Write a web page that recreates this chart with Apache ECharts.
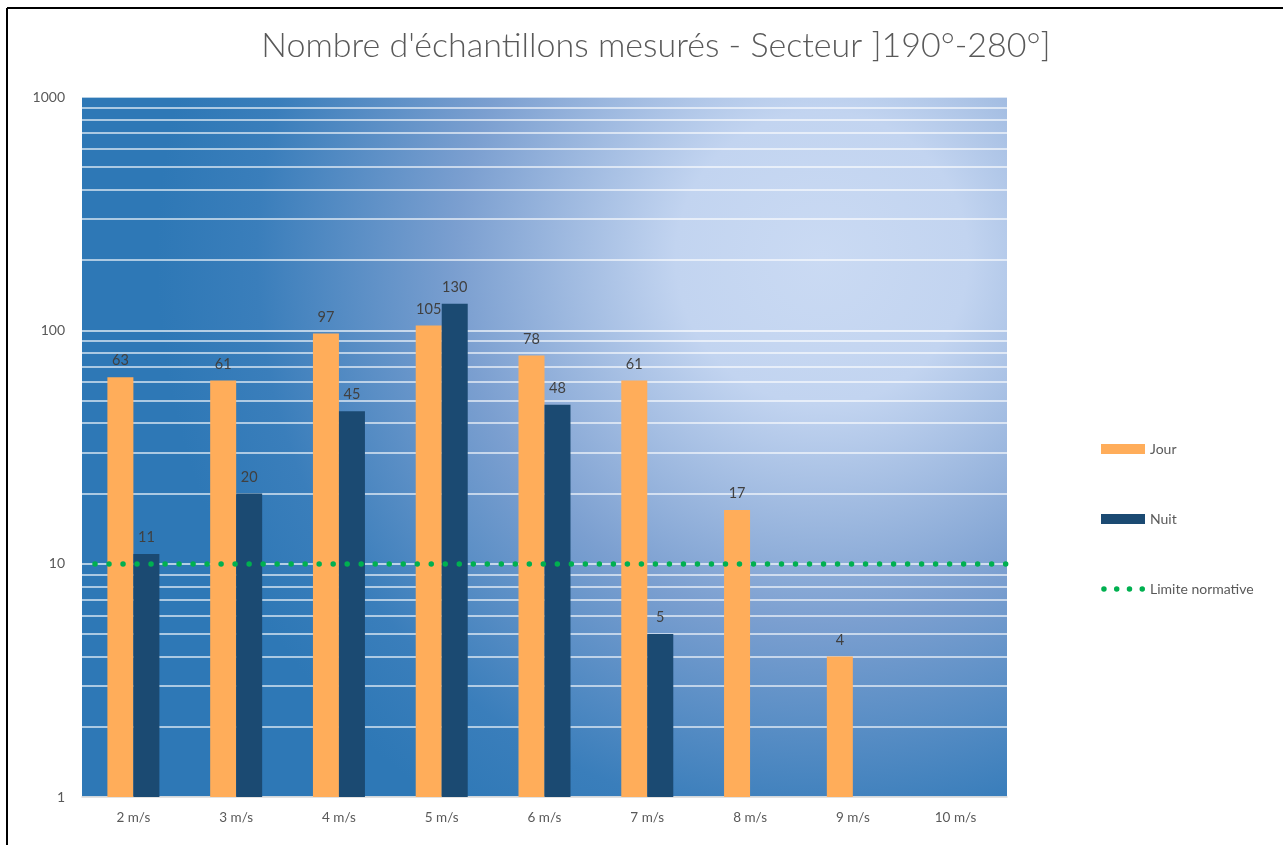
<!DOCTYPE html>
<html>
<head>
<meta charset="utf-8">
<script src="https://cdn.jsdelivr.net/npm/echarts@6/dist/echarts.min.js"></script>
<style>
  html, body { margin: 0; padding: 0; background: #fff; }
  #chart { width: 1283px; height: 845px; }
</style>
</head>
<body>
<div id="chart"></div>
<script>
const categories = ['2 m/s', '3 m/s', '4 m/s', '5 m/s', '6 m/s', '7 m/s', '8 m/s', '9 m/s', '10 m/s'];
const jour = [63, 61, 97, 105, 78, 61, 17, 4, null];
const nuit = [11, 20, 45, 130, 48, 5, null, null, null];
const limiteNormative = 10;
const yTicks = [1, 10, 100, 1000];
const gridValues = [2, 3, 4, 5, 6, 7, 8, 9, 20, 30, 40, 50, 60, 70, 80, 90, 200, 300, 400, 500, 600, 700, 800, 900];

const FONT = 'Lato, "Open Sans", sans-serif';
const dotsIcon = 'path://M0,0 M44,10 ' +
  [3, 16, 29, 42].map(cx => `M${cx - 2.8},5 a2.8,2.8 0 1,0 5.6,0 a2.8,2.8 0 1,0 -5.6,0 Z`).join(' ');

const chart = echarts.init(document.getElementById('chart'));
chart.setOption({
  backgroundColor: '#fff',
  animation: false,
  title: {
    text: "Nombre d'échantillons mesurés - Secteur ]190°-280°]",
    left: 651, top: 24, textAlign: 'center',
    textStyle: { fontFamily: FONT, fontSize: 34, fontWeight: 300, color: '#595959' }
  },
  graphic: [
    { type: 'line', shape: { x1: 7, y1: 8, x2: 1283, y2: 8 }, style: { stroke: '#000', lineWidth: 2 } },
    { type: 'line', shape: { x1: 7, y1: 8, x2: 7, y2: 845 }, style: { stroke: '#000', lineWidth: 2 } }
  ],
  legend: {
    orient: 'vertical', left: 1096, top: 436,
    itemWidth: 44, itemHeight: 10, itemGap: 54,
    textStyle: { fontFamily: FONT, fontSize: 14, lineHeight: 16, color: '#595959' },
    data: [
      { name: 'Jour', icon: 'rect' },
      { name: 'Nuit', icon: 'rect' },
      { name: 'Limite normative', icon: dotsIcon, itemStyle: { color: '#00B050' } }
    ]
  },
  grid: {
    left: 82, right: 276, top: 97, bottom: 48,
    show: true, borderWidth: 0,
    backgroundColor: {
      type: 'radial', x: 0.8, y: 0.23, r: 0.95,
      colorStops: [
        { offset: 0, color: '#CADAF3' },
        { offset: 0.22, color: '#C2D4F0' },
        { offset: 0.55, color: '#7B9FD0' },
        { offset: 0.85, color: '#3A7EBB' },
        { offset: 1, color: '#2E78B6' }
      ]
    }
  },
  xAxis: {
    type: 'category', data: categories,
    axisLine: { lineStyle: { color: '#D9D9D9', width: 1.5 } },
    axisTick: { show: false },
    axisLabel: { fontFamily: FONT, fontSize: 13.5, color: '#595959', margin: 14 }
  },
  yAxis: {
    type: 'log', logBase: 10, min: yTicks[0], max: yTicks[yTicks.length - 1],
    axisLine: { show: false }, axisTick: { show: false },
    axisLabel: { fontFamily: FONT, fontSize: 14, color: '#595959', margin: 17, formatter: v => String(v) },
    splitLine: { lineStyle: { color: 'rgba(255,255,255,0.85)', width: 1.5 } }
  },
  series: [
    {
      name: 'grid', type: 'line', data: [], silent: true,
      markLine: {
        z: 1, silent: true, symbol: 'none', animation: false,
        label: { show: false },
        lineStyle: { color: 'rgba(255,255,255,0.8)', width: 1.5, type: 'solid' },
        data: gridValues.map(v => ({ yAxis: v }))
      }
    },
    {
      name: 'Jour', type: 'bar', data: jour, barWidth: 26, barGap: '0%', z: 3,
      itemStyle: { color: '#FFAD5A' },
      label: { show: true, position: 'top', distance: 9, fontFamily: FONT, fontSize: 14.5, color: '#404040' }
    },
    {
      name: 'Nuit', type: 'bar', data: nuit, barWidth: 26, barGap: '0%', z: 3,
      itemStyle: { color: '#1B4A72' },
      label: { show: true, position: 'top', distance: 9, fontFamily: FONT, fontSize: 14.5, color: '#404040' }
    },
    {
      name: 'Limite normative', type: 'line', data: [], color: '#00B050',
      itemStyle: { color: '#00B050' },
      markLine: {
        z: 6, silent: true, symbol: 'none', animation: false,
        label: { show: false },
        lineStyle: { color: '#00B050', width: 5.5, type: [0.01, 14], cap: 'round', dashOffset: -13 },
        data: [{ yAxis: limiteNormative }]
      }
    }
  ]
});
</script>
</body>
</html>
